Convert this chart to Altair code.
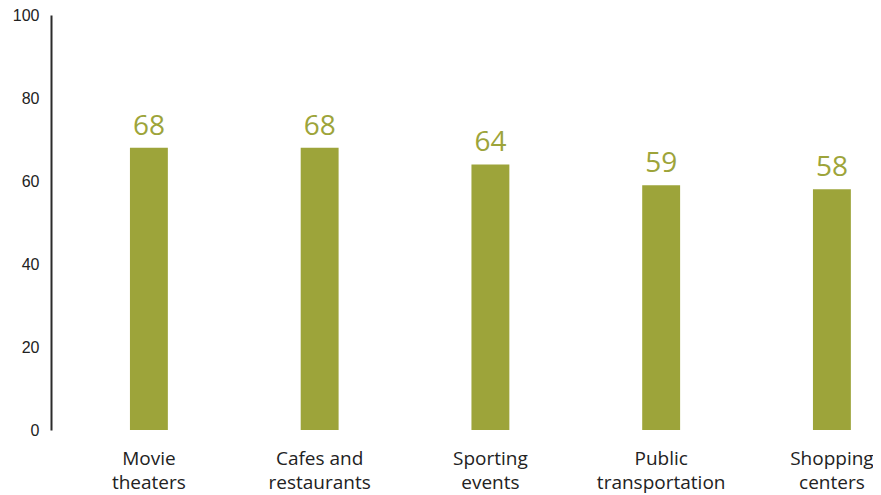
import altair as alt
import pandas as pd

categories = ["Movie theaters", "Cafes and restaurants", "Sporting events",
              "Public transportation", "Shopping centers"]
label_lines = ["Movie|theaters", "Cafes and|restaurants", "Sporting|events",
               "Public|transportation", "Shopping|centers"]
values = [68, 68, 64, 59, 58]
y_ticks = [0, 20, 40, 60, 80, 100]

df = pd.DataFrame({"cat": label_lines, "value": values})

GREEN = "#9da43a"

x = alt.X("cat:N", sort=label_lines, title=None,
          scale=alt.Scale(paddingInner=0.778, paddingOuter=0.296, align=0.781),
          axis=alt.Axis(labelAngle=0, domain=False, ticks=False,
                        labelExpr="split(datum.value, '|')",
                        labelFont="Open Sans", labelFontSize=19,
                        labelColor="#222222", labelPadding=19,
                        labelLineHeight=24))
y = alt.Y("value:Q", title=None,
          scale=alt.Scale(domain=[0, 100], nice=False),
          axis=alt.Axis(values=y_ticks, grid=False, ticks=False,
                        domainColor="#2b2b2b", domainWidth=2,
                        labelFont="Liberation Sans", labelFontSize=16,
                        labelColor="#222222", labelPadding=12))

base = alt.Chart(df).encode(x=x, y=y)
bars = base.mark_bar(color=GREEN)
text = base.mark_text(color=GREEN, font="Open Sans", fontSize=28,
                      baseline="alphabetic", dy=-13).encode(text="value:Q")

chart = (bars + text).properties(
    width=822, height=415,
    padding={"left": 43, "top": 7, "right": 0, "bottom": 65},
    autosize=alt.AutoSizeParams(type="none"),
    background="white",
).configure_view(stroke=None)

chart.save("out.html", embed_options={"renderer": "svg", "actions": False})
